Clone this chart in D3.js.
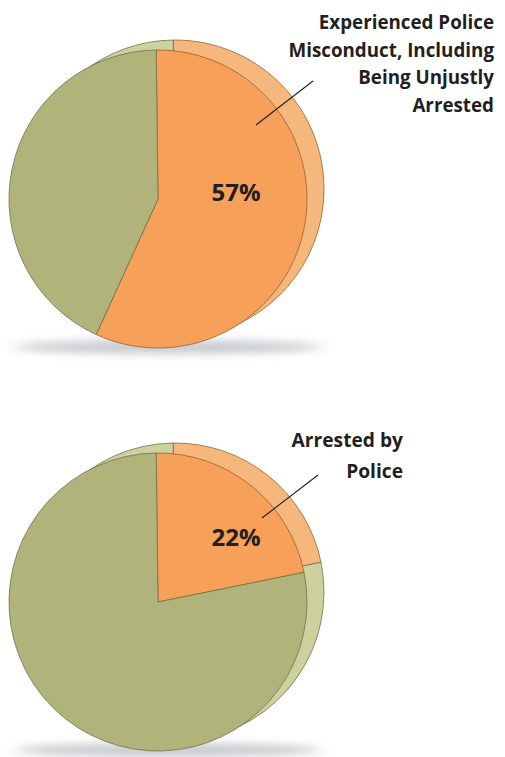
<!DOCTYPE html>
<html>
<head>
<meta charset="utf-8">
<script src="https://cdn.jsdelivr.net/npm/d3@7"></script>
<style>
  html, body { margin: 0; padding: 0; background: #ffffff; }
  svg { display: block; }
</style>
</head>
<body>
<svg id="chart" width="505" height="757"></svg>
<script>
// ---- data ----
const categories = ["Experienced Police Misconduct, Including Being Unjustly Arrested", "Arrested by Police"];
const labelLines = [
  ["Experienced Police", "Misconduct, Including", "Being Unjustly", "Arrested"],
  ["Arrested by", "Police"]
];
const percentValues = [57, 22];
const sliceNames = ["Yes", "No"];

// ---- layout ----
const W = 505, H = 757;
const svg = d3.select("#chart");
const R = 149;
const backOffset = { dx: 17, dy: -10 };
const centers = [{ x: 158, y: 199 }, { x: 158, y: 602 }];
const labelPos = [
  { x: 494, y: 29, lh: 27.6, fs: 18.8, line: [[313, 81], [256, 125]] },
  { x: 403, y: 447, lh: 30.5, fs: 19.2, line: [[318, 475], [262, 518]] }
];
const pctPos = [{ x: 236, y: 201 }, { x: 236, y: 546 }];

const frontFill = d3.scaleOrdinal().domain(sliceNames).range(["#f6a05a", "#b1b47a"]);
const backFill = d3.scaleOrdinal().domain(sliceNames).range(["#f5b77c", "#cdd19e"]);
const strokeCol = d3.scaleOrdinal().domain(sliceNames).range(["#9b5f2c", "#6f7149"]);

const defs = svg.append("defs");
const f = defs.append("filter").attr("id", "blur").attr("x", "-30%").attr("y", "-300%").attr("width", "160%").attr("height", "700%");
f.append("feGaussianBlur").attr("stdDeviation", "9 4");

const pie = d3.pie().sort(null).value(d => d.value).startAngle(-0.012).endAngle(2 * Math.PI - 0.012);
const arc = d3.arc().innerRadius(0).outerRadius(R);

percentValues.forEach((v, i) => {
  const data = [{ name: sliceNames[0], value: v }, { name: sliceNames[1], value: 100 - v }];
  const arcs = pie(data);
  const c = centers[i];
  const g = svg.append("g");

  // shadow
  g.append("ellipse")
    .attr("cx", c.x + 10).attr("cy", c.y + R - 1)
    .attr("rx", R + 4).attr("ry", 7)
    .attr("fill", "#9ba1a7").attr("opacity", 0.55)
    .attr("filter", "url(#blur)");

  // back disc
  const back = g.append("g").attr("transform", `translate(${c.x + backOffset.dx},${c.y + backOffset.dy})`);
  back.selectAll("path").data(arcs).join("path")
    .attr("d", arc)
    .attr("fill", d => backFill(d.data.name))
    .attr("stroke", d => strokeCol(d.data.name))
    .attr("stroke-width", 0.8)
    .attr("stroke-linejoin", "round");

  // front disc
  const front = g.append("g").attr("transform", `translate(${c.x},${c.y})`);
  front.selectAll("path").data(arcs).join("path")
    .attr("d", arc)
    .attr("fill", d => frontFill(d.data.name))
    .attr("stroke", d => strokeCol(d.data.name))
    .attr("stroke-width", 0.8)
    .attr("stroke-linejoin", "round");

  // percent label
  g.append("text")
    .attr("x", pctPos[i].x).attr("y", pctPos[i].y)
    .attr("text-anchor", "middle")
    .attr("font-family", "'Open Sans', sans-serif")
    .attr("font-weight", 700)
    .attr("font-size", 24)
    .attr("fill", "#231f20")
    .text(v + "%");

  // leader line
  const lp = labelPos[i];
  g.append("line")
    .attr("x1", lp.line[0][0]).attr("y1", lp.line[0][1])
    .attr("x2", lp.line[1][0]).attr("y2", lp.line[1][1])
    .attr("stroke", "#231f20").attr("stroke-width", 1.1);

  // category label
  const t = g.append("text")
    .attr("text-anchor", "end")
    .attr("font-family", "'Open Sans', sans-serif")
    .attr("font-weight", 700)
    .attr("font-size", lp.fs)
    .attr("fill", "#231f20");
  labelLines[i].forEach((ln, k) => {
    t.append("tspan").attr("x", lp.x).attr("y", lp.y + k * lp.lh).text(ln);
  });
});
</script>
</body>
</html>
